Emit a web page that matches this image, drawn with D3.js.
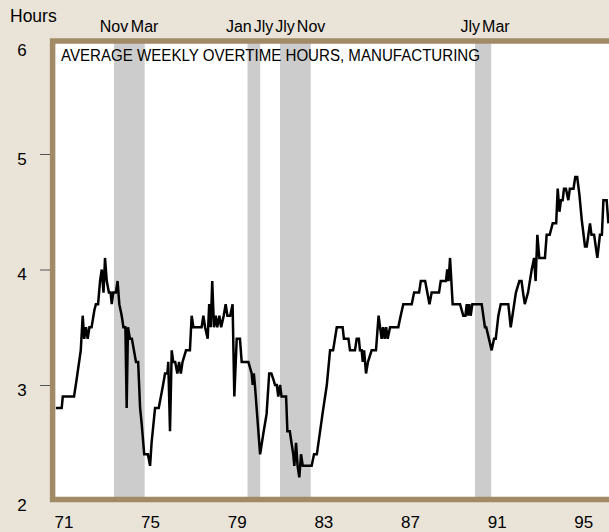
<!DOCTYPE html>
<html>
<head>
<meta charset="utf-8">
<script src="https://cdnjs.cloudflare.com/ajax/libs/d3/7.8.5/d3.min.js"></script>
<style>
	html, body { margin: 0; padding: 0; background: #e9e3d8; }
	svg { display: block; }
	text { font-family: "Liberation Sans", Arial, sans-serif; fill: #000; }
</style>
</head>
<body>
<div id="chart"></div>
<script>
// monthly readings, decimal two-digit years
var years = [
	71.15, 71.42, 71.47, 71.99, 72.11, 72.30, 72.39, 72.46, 72.54, 72.62,
	72.70, 72.80, 72.93, 73.00, 73.10, 73.19, 73.27, 73.35, 73.42, 73.50,
	73.60, 73.68, 73.73, 73.80, 73.92, 74.00, 74.08, 74.19, 74.27, 74.36,
	74.42, 74.48, 74.57, 74.66, 74.85, 74.95, 75.04, 75.11, 75.23, 75.40,
	75.50, 75.57, 75.73, 75.90, 76.10, 76.19, 76.30, 76.34, 76.42, 76.50,
	76.57, 76.66, 76.76, 76.84, 76.92, 77.00, 77.16, 77.34, 77.42, 77.50,
	77.88, 77.96, 78.04, 78.16, 78.23, 78.30, 78.37, 78.45, 78.53, 78.60,
	78.70, 78.78, 78.90, 78.99, 79.07, 79.20, 79.31, 79.39, 79.50, 79.65,
	79.73, 80.04, 80.19, 80.24, 80.29, 80.34, 80.58, 80.73, 80.88, 81.00,
	81.10, 81.19, 81.27, 81.35, 81.42, 81.50, 81.57, 81.78, 81.84, 81.95,
	82.11, 82.16, 82.24, 82.31, 82.39, 82.47, 82.55, 82.96, 83.07, 83.20,
	83.35, 83.50, 83.66, 83.81, 83.95, 84.12, 84.39, 84.45, 84.66, 84.73,
	84.96, 85.04, 85.14, 85.19, 85.27, 85.32, 85.38, 85.47, 85.56, 85.73,
	85.93, 86.05, 86.19, 86.26, 86.33, 86.40, 86.47, 86.58, 86.96, 87.07,
	87.19, 87.58, 87.69, 87.92, 88.00, 88.20, 88.30, 88.40, 88.50, 88.84,
	88.92, 89.16, 89.22, 89.28, 89.35, 89.47, 89.81, 89.96, 90.06, 90.12,
	90.18, 90.24, 90.30, 90.38, 90.81, 90.96, 91.02, 91.27, 91.38, 91.46,
	91.58, 91.69, 92.04, 92.15, 92.39, 92.55, 92.65, 92.72, 92.80, 92.95,
	93.12, 93.23, 93.30, 93.38, 93.47, 93.73, 93.81, 93.95, 94.09, 94.25,
	94.32, 94.40, 94.47, 94.55, 94.61, 94.70, 94.81, 94.88, 95.05, 95.13,
	95.22, 95.32, 95.43, 95.58, 95.66, 95.81, 95.88, 96.00, 96.15, 96.27,
	96.36, 96.43, 96.58, 96.66
];

var hours = [
	2.8, 2.8, 2.9, 2.9, 3.05, 3.3, 3.6, 3.4, 3.5, 3.4,
	3.5, 3.5, 3.65, 3.7, 3.7, 3.9, 4.0, 3.8, 4.1, 3.9,
	3.8, 3.8, 3.7, 3.8, 3.8, 3.9, 3.7, 3.6, 3.5, 3.5,
	2.8, 3.5, 3.4, 3.4, 3.2, 3.2, 2.8, 2.67, 2.4, 2.4,
	2.3, 2.5, 2.8, 2.8, 3.0, 3.1, 3.1, 3.2, 2.6, 3.3,
	3.2, 3.2, 3.1, 3.2, 3.1, 3.2, 3.3, 3.3, 3.6, 3.5,
	3.5, 3.6, 3.5, 3.4, 3.7, 3.5, 3.9, 3.5, 3.6, 3.5,
	3.6, 3.5, 3.6, 3.7, 3.6, 3.6, 3.7, 2.9, 3.4, 3.4,
	3.2, 3.2, 3.1, 3.0, 3.1, 3.0, 2.4, 2.58, 2.75, 3.1,
	3.1, 3.05, 3.0, 3.0, 2.9, 3.0, 2.9, 2.9, 2.6, 2.6,
	2.4, 2.3, 2.5, 2.3, 2.2, 2.4, 2.3, 2.3, 2.4, 2.4,
	2.6, 2.8, 3.0, 3.3, 3.3, 3.5, 3.5, 3.4, 3.4, 3.3,
	3.3, 3.4, 3.4, 3.3, 3.3, 3.2, 3.3, 3.1, 3.2, 3.3,
	3.3, 3.6, 3.4, 3.5, 3.4, 3.5, 3.4, 3.5, 3.5, 3.6,
	3.7, 3.7, 3.8, 3.8, 3.9, 3.9, 3.8, 3.7, 3.8, 3.8,
	3.9, 3.9, 4.0, 3.9, 4.1, 3.7, 3.7, 3.6, 3.6, 3.7,
	3.6, 3.7, 3.6, 3.7, 3.7, 3.5, 3.5, 3.3, 3.4, 3.4,
	3.6, 3.7, 3.7, 3.5, 3.8, 3.9, 3.9, 3.8, 3.7, 3.8,
	4.0, 4.1, 3.9, 4.3, 4.1, 4.1, 4.3, 4.3, 4.4, 4.4,
	4.7, 4.5, 4.6, 4.6, 4.7, 4.7, 4.6, 4.7, 4.7, 4.8,
	4.8, 4.65, 4.43, 4.2, 4.2, 4.4, 4.3, 4.3, 4.1, 4.3,
	4.3, 4.6, 4.6, 4.4
];

// recessions: first and last month of each shaded band
var recessionStart = ['1973-11', '1980-01', '1981-07', '1990-07'];
var recessionEnd = ['1975-03', '1980-07', '1982-11', '1991-03'];
var monthNames = ['Jan', 'Feb', 'Mar', 'Apr', 'May', 'Jun', 'Jly', 'Aug', 'Sep', 'Oct', 'Nov', 'Dec'];

var yTicks = [2, 3, 4, 5, 6];
var xTicks = [71, 75, 79, 83, 87, 91, 95];
var title = 'AVERAGE WEEKLY OVERTIME HOURS, MANUFACTURING';

var Chart = {

	WIDTH: 609,
	HEIGHT: 532,
	FRAME_COLOR: '#a08b66',
	BAND_COLOR: '#cccccc',

	// "1973-11" -> 73.833 (start of month) or 73.917 (end of month)
	monthToYear: function(s, atEnd) {
		var parts = s.split('-');
		var m = +parts[1] - (atEnd ? 0 : 1);
		return (+parts[0] - 1900) + m / 12;
	},

	draw: function() {
		var x = d3.scaleLinear().domain([71, 96]).range([52.6, 594.1]);
		var y = d3.scaleLinear().domain([2, 6]).range([500.5, 38.5]);

		var svg = d3.select('#chart')
			.append('svg')
			.attr('width', Chart.WIDTH)
			.attr('height', Chart.HEIGHT);

		var frameTop = 41, frameBottom = 499.5, frameLeft = x(71), frameRight = 640;

		// plot area
		svg.append('rect')
			.attr('x', frameLeft)
			.attr('y', frameTop)
			.attr('width', frameRight - frameLeft)
			.attr('height', frameBottom - frameTop)
			.style('fill', '#fff');

		svg.append('clipPath')
			.attr('id', 'plot-clip')
			.append('rect')
			.attr('x', frameLeft)
			.attr('y', frameTop)
			.attr('width', frameRight - frameLeft)
			.attr('height', frameBottom - frameTop);

		var plot = svg.append('g').attr('clip-path', 'url(#plot-clip)');

		var bands = recessionStart.map(function(s, i) {
			return {
				x0: x(Chart.monthToYear(s, false)),
				x1: x(Chart.monthToYear(recessionEnd[i], true)),
				l0: monthNames[+s.split('-')[1] - 1],
				l1: monthNames[+recessionEnd[i].split('-')[1] - 1]
			};
		});

		plot.selectAll('rect.band')
			.data(bands)
			.enter()
			.append('rect')
			.attr('class', 'band')
			.attr('x', function(d) { return d.x0; })
			.attr('y', frameTop)
			.attr('width', function(d) { return d.x1 - d.x0; })
			.attr('height', frameBottom - frameTop)
			.style('fill', Chart.BAND_COLOR);

		// title inside the frame, squeezed like the narrow face of the original
		svg.append('text')
			.attr('x', 61)
			.attr('y', 61)
			.attr('textLength', 419)
			.attr('lengthAdjust', 'spacingAndGlyphs')
			.style('font-size', '16px')
			.text(title);

		var line = d3.line()
			.x(function(d, i) { return x(years[i]); })
			.y(function(d) { return y(d); });

		plot.append('path')
			.datum(hours)
			.attr('d', line)
			.style('fill', 'none')
			.style('stroke', '#000')
			.style('stroke-width', 2.5)
			.style('stroke-linejoin', 'miter');

		// frame on top of everything
		svg.append('rect')
			.attr('x', frameLeft)
			.attr('y', frameTop)
			.attr('width', frameRight - frameLeft)
			.attr('height', frameBottom - frameTop)
			.style('fill', 'none')
			.style('stroke', Chart.FRAME_COLOR)
			.style('stroke-width', 5.5);

		// left axis: labels sit a little under their tick
		var yAxis = svg.append('g')
			.attr('transform', 'translate(50,0)')
			.call(d3.axisLeft(y).tickValues(yTicks).tickSize(10).tickPadding(17).tickFormat(d3.format('d')));
		yAxis.select('.domain').remove();
		yAxis.selectAll('.tick line')
			.style('stroke', '#555')
			.style('display', function(d) { return (d === 2 || d === 6) ? 'none' : null; });
		yAxis.selectAll('.tick text')
			.attr('dy', function(d) { return d === 6 ? '1.0em' : '0.6em'; })
			.style('font-size', '17px')
			.style('text-anchor', 'middle')
			.attr('x', -28);

		svg.append('text')
			.attr('x', 10)
			.attr('y', 22)
			.style('font-size', '17.5px')
			.text('Hours');

		// bottom labels are centred on each year
		var xAxis = svg.append('g')
			.attr('transform', 'translate(0,' + 508 + ')')
			.call(d3.axisBottom(x).tickValues(xTicks.map(function(t) { return t + 0.5; }))
				.tickSize(0).tickPadding(8).tickFormat(function(d) { return Math.floor(d); }));
		xAxis.select('.domain').remove();
		xAxis.selectAll('.tick text').style('font-size', '17px');

		Chart.addBandLabels(svg, bands);
	},

	// month names above the frame, centred on band edges then pushed apart
	addBandLabels: function(svg, bands) {
		var g = svg.append('g').style('font-size', '16px');
		var labels = [];
		bands.forEach(function(b) {
			labels.push({ x: b.x0, text: b.l0 });
			labels.push({ x: b.x1, text: b.l1 });
		});
		var texts = g.selectAll('text')
			.data(labels)
			.enter()
			.append('text')
			.attr('y', 32)
			.style('text-anchor', 'middle')
			.text(function(d) { return d.text; });
		texts.each(function(d) { d.w = this.getComputedTextLength(); });

		// relax overlaps between neighbours a few times
		var gap = 2;
		for(var k = 0; k < 20; k++) {
			for(var i = 1; i < labels.length; i++) {
				var a = labels[i - 1], b = labels[i];
				var overlap = (a.x + a.w / 2 + gap) - (b.x - b.w / 2);
				if(overlap > 0) {
					a.x -= overlap / 2;
					b.x += overlap / 2;
				}
			}
		}
		texts.attr('x', function(d) { return d.x; });
	}
};

Chart.draw();
</script>
</body>
</html>
